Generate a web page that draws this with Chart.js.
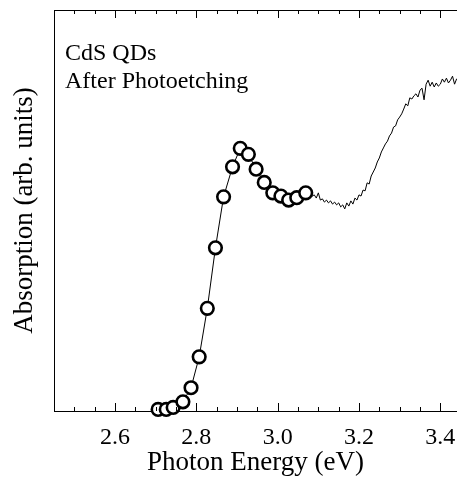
<!DOCTYPE html>
<html><head><meta charset="utf-8">
<script src="https://cdn.jsdelivr.net/npm/chart.js@4.4.1/dist/chart.umd.min.js"></script>
<style>html,body{margin:0;padding:0;background:#fff}</style>
</head><body>
<canvas id="c" width="457" height="482" style="display:block;width:457px;height:482px"></canvas>
<script>
// ---- data ----
const circleEnergy = [2.706,2.726,2.743,2.767,2.787,2.807,2.827,2.847,2.867,2.889,2.908,2.928,2.947,2.967,2.988,3.008,3.027,3.047,3.069];
const circleAbs    = [0.004,0.004,0.009,0.023,0.058,0.135,0.256,0.407,0.534,0.609,0.655,0.640,0.603,0.570,0.544,0.536,0.526,0.532,0.544];

const tailEnergy = [3.070,3.075,3.080,3.085,3.090,3.095,3.100,3.105,3.110,3.115,
  3.120,3.125,3.130,3.135,3.140,3.145,3.150,3.155,3.160,3.165,
  3.170,3.175,3.180,3.185,3.190,3.195,3.200,3.205,3.210,3.215,
  3.220,3.225,3.230,3.235,3.240,3.245,3.250,3.255,3.260,3.265,
  3.270,3.275,3.280,3.285,3.290,3.295,3.300,3.305,3.310,3.315,
  3.320,3.325,3.330,3.335,3.340,3.345,3.350,3.355,3.360,3.365,
  3.370,3.375,3.380,3.385,3.390,3.395,3.400,3.405,3.410,3.415,
  3.420,3.425,3.430,3.435,3.440,3.445];
const tailAbs = [0.544,0.541,0.539,0.536,0.539,0.531,0.544,0.526,0.529,0.521,
  0.526,0.519,0.524,0.516,0.521,0.514,0.519,0.509,0.514,0.504,
  0.519,0.511,0.524,0.516,0.531,0.526,0.539,0.536,0.551,0.549,
  0.569,0.566,0.586,0.596,0.606,0.621,0.631,0.646,0.656,0.666,
  0.673,0.686,0.693,0.708,0.711,0.726,0.733,0.741,0.753,0.766,
  0.761,0.781,0.778,0.786,0.791,0.783,0.800,0.805,0.776,0.815,
  0.825,0.810,0.820,0.808,0.818,0.810,0.815,0.828,0.820,0.830,
  0.818,0.825,0.835,0.815,0.828,0.833];

const majorTicks = [2.6,2.8,3.0,3.2,3.4];
const minorTicks = [2.50,2.55,2.60,2.65,2.70,2.75,2.80,2.85,2.90,2.95,3.00,3.05,3.10,3.15,3.20,3.25,3.30,3.35,3.40];
const xRange = [2.45,3.441];
const yRange = [0,1];
const annotationLines = ['CdS QDs','After Photoetching'];
const xTitle = 'Photon Energy (eV)';
const yTitle = 'Absorption (arb. units)';

// ---- build chart ----
const FONT = '"Liberation Serif","Times New Roman",serif';
const lineData = circleEnergy.map((e,i)=>({x:e,y:circleAbs[i]}))
  .concat(tailEnergy.map((e,i)=>({x:e,y:tailAbs[i]})));
const circleData = circleEnergy.map((e,i)=>({x:e,y:circleAbs[i]}));

const insideTicks = {
  id:'insideTicks',
  afterDraw(chart){
    const {ctx, chartArea, scales} = chart;
    const x = scales.x;
    ctx.save();
    ctx.strokeStyle = '#000';
    ctx.lineWidth = 1;
    ctx.beginPath();
    minorTicks.forEach(v=>{
      const px = Math.round(x.getPixelForValue(v)) + 0.5;
      const len = majorTicks.some(m=>Math.abs(m-v)<1e-6) ? 8 : 4;
      ctx.moveTo(px, chartArea.bottom); ctx.lineTo(px, chartArea.bottom - len);
      ctx.moveTo(px, chartArea.top); ctx.lineTo(px, chartArea.top + len);
    });
    ctx.stroke();
    ctx.fillStyle = '#000';
    ctx.font = '24px ' + FONT;
    ctx.textBaseline = 'alphabetic';
    ctx.textAlign = 'left';
    annotationLines.forEach((t,i)=>{
      ctx.fillText(t, chartArea.left + 11, chartArea.top + 50 + i*28);
    });
    ctx.restore();
  }
};

const noSidePad = (s)=>{ s.paddingLeft = 0; s.paddingRight = 0; };

new Chart(document.getElementById('c'), {
  type:'scatter',
  data:{datasets:[
    {data:circleData, showLine:false, pointRadius:6.3, pointBorderWidth:2.6,
     pointBorderColor:'#000', pointBackgroundColor:'#fff', order:0, clip:false},
    {data:lineData, showLine:true, borderColor:'#000', borderWidth:1, pointRadius:0,
     tension:0, fill:false, order:1}
  ]},
  options:{
    responsive:false, devicePixelRatio:1, animation:false,
    layout:{autoPadding:false, padding:{top:10,left:0,right:0,bottom:0}},
    plugins:{legend:{display:false}, tooltip:{enabled:false}},
    scales:{
      x:{type:'linear', position:'bottom', min:xRange[0], max:xRange[1],
        grid:{display:false, drawTicks:false},
        border:{display:true, color:'#000', width:1},
        afterBuildTicks:(s)=>{ s.ticks = majorTicks.map(v=>({value:v})); },
        ticks:{color:'#000', font:{family:FONT, size:24}, padding:12, maxRotation:0,
          callback:(v)=>Number(v).toFixed(1)},
        title:{display:true, text:xTitle, color:'#000', font:{family:FONT, size:27},
          padding:{top:0,bottom:3}},
        afterFit:(s)=>{ s.height = 71; noSidePad(s); }
      },
      x2:{type:'linear', axis:'x', position:'top', min:xRange[0], max:xRange[1],
        grid:{display:false, drawTicks:false},
        border:{display:true, color:'#000', width:1},
        ticks:{display:false},
        afterFit:(s)=>{ s.height = 0; noSidePad(s); }
      },
      y:{type:'linear', position:'left', min:yRange[0], max:yRange[1],
        grid:{display:false, drawTicks:false},
        border:{display:true, color:'#000', width:1},
        ticks:{display:false},
        title:{display:true, text:yTitle, color:'#000', font:{family:FONT, size:27},
          padding:{top:9,bottom:0}},
        afterFit:(s)=>{ s.width = 54; }
      }
    }
  },
  plugins:[insideTicks]
});
</script>
</body></html>
